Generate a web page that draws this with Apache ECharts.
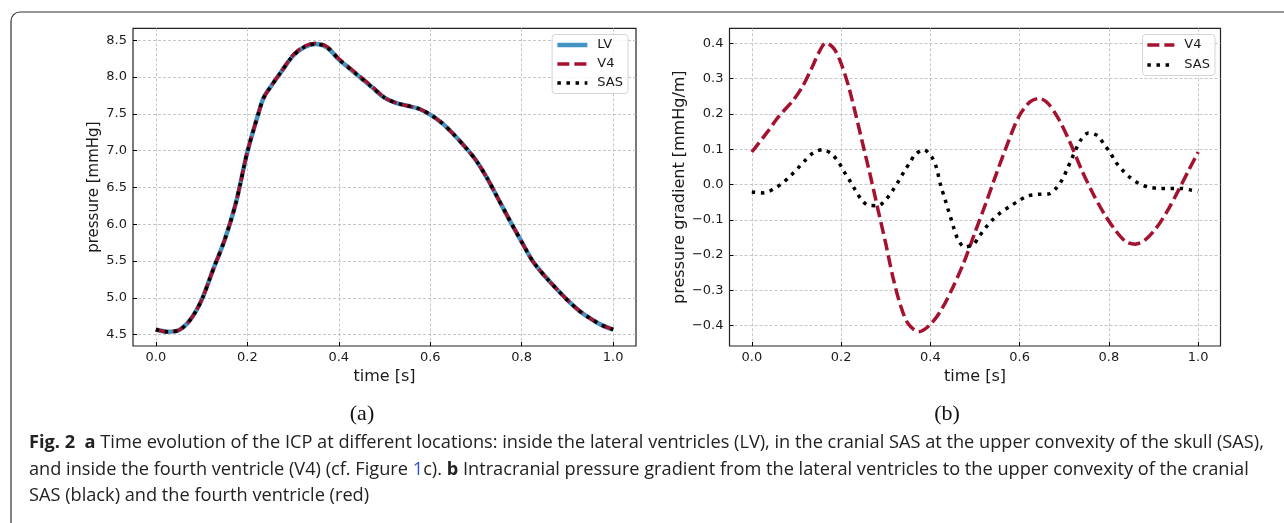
<!DOCTYPE html>
<html><head><meta charset="utf-8">
<script src="https://cdn.jsdelivr.net/npm/echarts@6/dist/echarts.min.js"></script>
<style>html,body{margin:0;padding:0;background:#fff}#c{width:1284px;height:523px}</style>
</head><body><div id="c"></div>
<script>
// ---- data (a): ICP time evolution ----
const icpTime = [0,0.025,0.05,0.075,0.1,0.125,0.15,0.175,0.2,0.225,0.235,0.25,0.275,0.3,0.325,0.35,0.375,0.4,0.425,0.45,0.475,0.5,0.525,0.55,0.575,0.6,0.625,0.65,0.675,0.7,0.725,0.75,0.775,0.8,0.825,0.85,0.875,0.9,0.925,0.95,0.975,1.0];
const lvPressure  = [4.57,4.54,4.56,4.70,4.97,5.38,5.78,6.29,6.98,7.52,7.71,7.86,8.08,8.29,8.41,8.45,8.40,8.24,8.11,7.98,7.85,7.72,7.65,7.61,7.57,7.49,7.38,7.23,7.06,6.87,6.62,6.33,6.04,5.76,5.49,5.30,5.13,4.97,4.83,4.72,4.63,4.57];
const v4Pressure  = [4.57,4.54,4.56,4.70,4.97,5.38,5.78,6.29,6.98,7.52,7.71,7.86,8.08,8.30,8.42,8.46,8.41,8.25,8.12,7.99,7.86,7.72,7.65,7.61,7.57,7.49,7.38,7.23,7.06,6.87,6.62,6.33,6.04,5.76,5.49,5.30,5.13,4.97,4.83,4.72,4.63,4.57];
const sasPressure = [4.57,4.54,4.56,4.70,4.97,5.38,5.78,6.29,6.98,7.52,7.71,7.86,8.08,8.29,8.41,8.45,8.40,8.24,8.11,7.98,7.85,7.72,7.65,7.61,7.57,7.49,7.38,7.23,7.06,6.87,6.62,6.33,6.04,5.76,5.49,5.30,5.13,4.97,4.83,4.72,4.63,4.57];
const pressureTicks = [4.5,5.0,5.5,6.0,6.5,7.0,7.5,8.0,8.5];

// ---- data (b): pressure gradients ----
const v4GradTime = [0,0.035,0.06,0.093,0.1135,0.134,0.151,0.166,0.184,0.2,0.217,0.234,0.25,0.267,0.283,0.3,0.316,0.333,0.35,0.374,0.399,0.424,0.449,0.474,0.499,0.524,0.548,0.573,0.598,0.623,0.644,0.664,0.689,0.714,0.739,0.764,0.789,0.814,0.838,0.859,0.88,0.905,0.93,0.954,0.979,1.0];
const v4Gradient = [0.092,0.149,0.192,0.239,0.277,0.329,0.376,0.401,0.385,0.343,0.277,0.192,0.107,0.017,-0.073,-0.167,-0.262,-0.342,-0.394,-0.417,-0.398,-0.356,-0.295,-0.224,-0.139,-0.054,0.031,0.116,0.192,0.234,0.244,0.229,0.182,0.116,0.041,-0.025,-0.082,-0.129,-0.162,-0.169,-0.158,-0.125,-0.077,-0.021,0.041,0.092];
const sasGradTime = [0,0.028,0.051,0.07,0.087,0.104,0.12,0.138,0.159,0.18,0.195,0.207,0.22,0.231,0.244,0.261,0.283,0.302,0.316,0.329,0.341,0.354,0.366,0.385,0.403,0.413,0.424,0.432,0.439,0.446,0.453,0.461,0.476,0.496,0.51,0.524,0.54,0.557,0.577,0.598,0.619,0.64,0.664,0.683,0.696,0.706,0.716,0.725,0.737,0.754,0.775,0.789,0.803,0.815,0.83,0.847,0.867,0.888,0.913,0.938,0.961,0.985,1.0];
const sasGradient = [-0.021,-0.024,-0.011,0.005,0.025,0.047,0.069,0.09,0.099,0.085,0.062,0.036,0.01,-0.014,-0.04,-0.059,-0.06,-0.04,-0.016,0.01,0.036,0.062,0.085,0.099,0.078,0.05,-0.007,-0.038,-0.068,-0.096,-0.125,-0.153,-0.177,-0.17,-0.146,-0.122,-0.099,-0.08,-0.063,-0.046,-0.032,-0.028,-0.027,-0.009,0.015,0.042,0.071,0.097,0.126,0.146,0.138,0.114,0.09,0.064,0.041,0.02,0.003,-0.007,-0.011,-0.011,-0.011,-0.016,-0.019];
const gradientTicks = [-0.4,-0.3,-0.2,-0.1,0.0,0.1,0.2,0.3,0.4];
const timeTicks = [0,0.2,0.4,0.6,0.8,1.0];

const zip = (a,b) => a.map((v,i) => [v, b[i]]);
const RED = '#a5122f', BLUE = '#4393c3';
const LV_LINE = {width:4.5, color:BLUE, type:'solid'};
const V4_LINE = {width:3.5, color:RED, type:[12,5], cap:'butt'};
const SAS_LINE = {width:3.5, color:'#000', type:[3.5,5.6], cap:'butt'};
const tickFont = {fontFamily:'DejaVu Sans', fontSize:13, color:'#1a1a1a'};
const fmt = v => v.toFixed(1).replace('-', '\u2212');
const gridLine = {show:true, lineStyle:{color:'#b8b8b8', width:0.8, type:[3,2]}};

function xAx(gi){return {type:'value', gridIndex:gi, min:-0.05, max:1.05,
  name:'time [s]', nameLocation:'middle', nameGap:22,
  nameTextStyle:{fontFamily:'DejaVu Sans', fontSize:16, color:'#1a1a1a', verticalAlign:'top'},
  axisLine:{show:false, onZero:false}, axisTick:{inside:true, length:4, customValues:timeTicks, lineStyle:{color:'#000', width:1}},
  axisLabel:{customValues:timeTicks, formatter:fmt, margin:5, ...tickFont},
  splitLine:gridLine};}
function yAx(gi,min,max,ticks,name,gap,fs){return {type:'value', gridIndex:gi, min:min, max:max,
  name:name, nameLocation:'middle', nameGap:gap,
  nameTextStyle:{fontFamily:'DejaVu Sans', fontSize:fs, color:'#1a1a1a'},
  axisLine:{show:false, onZero:false}, axisTick:{inside:true, length:4, customValues:ticks, lineStyle:{color:'#000', width:1}},
  axisLabel:{customValues:ticks, formatter:fmt, margin:6, ...tickFont},
  splitLine:gridLine};}

function legendBox(data, right, itemW, gap){return {data:data, orient:'vertical', right:right, top:34.5,
  itemWidth:itemW, itemHeight:14, itemGap:gap,
  itemStyle:{opacity:0},
  padding:[4,5,4,3], borderColor:'#d4d4d4', borderWidth:1, borderRadius:3, backgroundColor:'rgba(255,255,255,0.85)',
  textStyle:{fontFamily:'DejaVu Sans', fontSize:13, color:'#1a1a1a', padding:[0,0,0,5]}, selectedMode:false};}

const CAP_FONT = 'Open Sans', CAP_SIZE = 18.2;
const cap = {fontFamily:CAP_FONT, fontSize:CAP_SIZE, fill:'#222'};
const capRich = {b:{fontFamily:CAP_FONT, fontSize:CAP_SIZE, fontWeight:'bold', fill:'#222'}, l:{fontFamily:CAP_FONT, fontSize:CAP_SIZE, fill:'#2f55d4'}};

const chart = echarts.init(document.getElementById('c'), null, {renderer:'canvas'});
chart.setOption({
  animation:false,
  grid:[{left:133, top:28.3, width:503, height:317.7, show:true, borderColor:'#222', borderWidth:1.2, backgroundColor:'transparent'},
        {left:729.5, top:28.3, width:491, height:317.7, show:true, borderColor:'#222', borderWidth:1.2, backgroundColor:'transparent'}],
  xAxis:[xAx(0), xAx(1)],
  yAxis:[yAx(0,4.346,8.663,pressureTicks,'pressure [mmHg]',31,15), yAx(1,-0.4575,0.4425,gradientTicks,'pressure gradient [mmHg/m]',41,16)],
  legend:[legendBox([{name:'LV', lineStyle:LV_LINE},{name:'V4', lineStyle:V4_LINE},{name:'SAS', lineStyle:SAS_LINE}], 656, 30, 6),
          legendBox([{name:'V4', lineStyle:V4_LINE},{name:'SAS', lineStyle:SAS_LINE}], 69, 27, 7)],
  series:[
    {name:'LV', type:'line', xAxisIndex:0, yAxisIndex:0, data:zip(icpTime,lvPressure), symbol:'none', smooth:0.3, color:BLUE, lineStyle:LV_LINE},
    {name:'V4', type:'line', xAxisIndex:0, yAxisIndex:0, data:zip(icpTime,v4Pressure), symbol:'none', smooth:0.3, color:RED, lineStyle:V4_LINE},
    {name:'SAS', type:'line', xAxisIndex:0, yAxisIndex:0, data:zip(icpTime,sasPressure), symbol:'none', smooth:0.3, color:'#000', lineStyle:SAS_LINE},
    {name:'V4', type:'line', xAxisIndex:1, yAxisIndex:1, data:zip(v4GradTime,v4Gradient), symbol:'none', smooth:0.3, color:RED, lineStyle:V4_LINE},
    {name:'SAS', type:'line', xAxisIndex:1, yAxisIndex:1, data:zip(sasGradTime,sasGradient), symbol:'none', smooth:0.3, color:'#000', lineStyle:SAS_LINE}
  ],
  graphic:[
    {type:'rect', shape:{x:11, y:12, width:1400, height:700, r:9}, style:{fill:'none', stroke:'#333', lineWidth:1.2}, silent:true},
    {type:'text', x:362, y:414, style:{text:'(a)', fontFamily:'Liberation Serif', fontSize:22, fill:'#111', align:'center', verticalAlign:'middle'}},
    {type:'text', x:947, y:414, style:{text:'(b)', fontFamily:'Liberation Serif', fontSize:22, fill:'#111', align:'center', verticalAlign:'middle'}},
    {type:'text', x:29, y:443, style:{...cap, verticalAlign:'middle', rich:capRich,
      text:'{b|Fig. 2}  {b|a} Time evolution of the ICP at different locations: inside the lateral ventricles (LV), in the cranial SAS at the upper convexity of the skull (SAS),'}},
    {type:'text', x:29, y:470, style:{...cap, verticalAlign:'middle', rich:capRich,
      text:'and inside the fourth ventricle (V4) (cf. Figure {l|1}c). {b|b} Intracranial pressure gradient from the lateral ventricles to the upper convexity of the cranial'}},
    {type:'text', x:29, y:496, style:{...cap, verticalAlign:'middle', rich:capRich,
      text:'SAS (black) and the fourth ventricle (red)'}}
  ]
});
</script></body></html>
